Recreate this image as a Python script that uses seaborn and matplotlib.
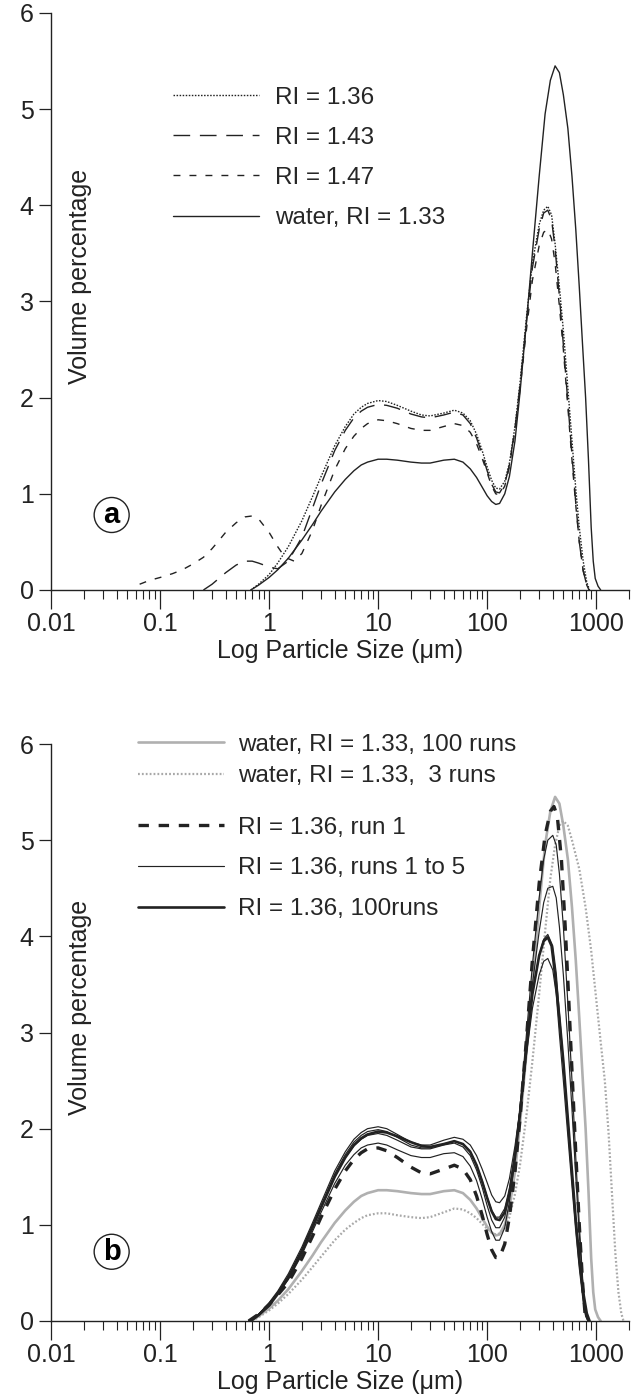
import matplotlib
matplotlib.use("Agg")
import matplotlib.pyplot as plt
import seaborn as sns
from matplotlib.ticker import FixedLocator, FixedFormatter, NullFormatter

# ---------------- data ----------------
# Panel a
a_water_size = [0.68, 0.8, 1.0, 1.2, 1.5, 2.0, 2.5, 3.0, 4.0, 5.0, 6.0, 7.0, 8.0, 10, 12, 15, 20, 25, 30, 40,
                50, 60, 70, 80, 90, 100, 110, 120, 130, 145, 160, 180, 200, 230, 260, 300, 340, 380, 420, 460,
                500, 550, 600, 650, 700, 750, 800, 850, 900, 940, 980, 1040, 1100]
a_water_vol = [0, 0.05, 0.13, 0.21, 0.33, 0.52, 0.68, 0.82, 1.02, 1.15, 1.24, 1.30, 1.33, 1.36, 1.36, 1.35, 1.33,
               1.32, 1.32, 1.35, 1.36, 1.33, 1.26, 1.17, 1.07, 0.98, 0.92, 0.89, 0.90, 1.00, 1.18, 1.55, 2.05,
               2.8, 3.5, 4.3, 4.95, 5.3, 5.45, 5.38, 5.15, 4.8, 4.3, 3.75, 3.15, 2.55, 2.0, 1.35, 0.65, 0.3,
               0.12, 0.04, 0]

a_ri136_size = [0.68, 0.8, 1.0, 1.2, 1.5, 2.0, 2.5, 3.0, 4.0, 5.0, 6.0, 7.0, 8.0, 10, 12, 15, 20, 25, 30, 40,
                50, 60, 70, 80, 90, 100, 110, 120, 130, 145, 160, 180, 200, 230, 260, 300, 330, 360, 390, 420,
                460, 500, 550, 600, 650, 700, 760, 820, 870]
a_ri136_vol = [0, 0.06, 0.16, 0.28, 0.45, 0.72, 0.97, 1.18, 1.5, 1.7, 1.83, 1.9, 1.94, 1.97, 1.96, 1.92, 1.86,
               1.82, 1.81, 1.84, 1.87, 1.84, 1.76, 1.62, 1.45, 1.28, 1.14, 1.06, 1.05, 1.13, 1.32, 1.7, 2.15,
               2.85, 3.4, 3.8, 3.95, 3.99, 3.9, 3.6, 3.15, 2.7, 2.1, 1.55, 1.05, 0.65, 0.3, 0.08, 0]

a_ri143_size = [0.25, 0.3, 0.4, 0.5, 0.6, 0.7, 0.8, 1.0, 1.2, 1.5, 2.0, 2.5, 3.0, 4.0, 5.0, 6.0, 7.0, 8.0, 10,
                12, 15, 20, 25, 30, 40, 50, 60, 70, 80, 90, 100, 110, 120, 130, 145, 160, 180, 200, 230, 260,
                300, 330, 360, 390, 420, 460, 500, 550, 600, 650, 700, 760, 820, 860]
a_ri143_vol = [0, 0.06, 0.18, 0.26, 0.3, 0.3, 0.28, 0.24, 0.22, 0.3, 0.55, 0.85, 1.1, 1.45, 1.66, 1.79, 1.86,
               1.9, 1.93, 1.92, 1.89, 1.83, 1.8, 1.79, 1.82, 1.85, 1.82, 1.73, 1.58, 1.41, 1.24, 1.1, 1.02,
               1.01, 1.1, 1.3, 1.68, 2.12, 2.8, 3.35, 3.75, 3.92, 3.95, 3.85, 3.55, 3.05, 2.55, 1.95, 1.4,
               0.9, 0.5, 0.2, 0.05, 0]

a_ri147_size = [0.065, 0.08, 0.1, 0.13, 0.16, 0.2, 0.25, 0.3, 0.35, 0.4, 0.5, 0.6, 0.7, 0.8, 1.0, 1.2, 1.4,
                1.7, 2.0, 2.5, 3.0, 4.0, 5.0, 6.0, 7.0, 8.0, 10, 12, 15, 20, 25, 30, 40, 50, 60, 70, 80, 90,
                100, 110, 120, 130, 145, 160, 180, 200, 230, 260, 300, 330, 360, 390, 420, 460, 500, 550,
                600, 650, 700, 760, 820, 860]
a_ri147_vol = [0.06, 0.1, 0.13, 0.17, 0.21, 0.27, 0.34, 0.43, 0.52, 0.6, 0.7, 0.76, 0.77, 0.74, 0.6, 0.45,
               0.34, 0.3, 0.38, 0.62, 0.88, 1.25, 1.47, 1.6, 1.68, 1.73, 1.77, 1.76, 1.73, 1.68, 1.66, 1.66,
               1.7, 1.73, 1.71, 1.64, 1.52, 1.37, 1.22, 1.08, 1.0, 0.99, 1.08, 1.28, 1.66, 2.08, 2.72, 3.22,
               3.58, 3.72, 3.75, 3.65, 3.4, 2.95, 2.5, 1.9, 1.35, 0.88, 0.5, 0.2, 0.05, 0]

# Panel b
b_water3_size = [0.7, 0.8, 1.0, 1.2, 1.5, 2.0, 2.5, 3.0, 4.0, 5.0, 6.0, 7.0, 8.0, 10, 12, 15, 20, 25, 30, 40,
                 50, 60, 70, 80, 90, 100, 110, 120, 130, 145, 160, 180, 200, 230, 260, 300, 340, 380, 420, 460,
                 500, 550, 600, 700, 800, 900, 1000, 1100, 1200, 1300, 1400, 1500, 1600, 1700, 1780]
b_water3_vol = [0, 0.04, 0.11, 0.18, 0.28, 0.43, 0.56, 0.67, 0.84, 0.95, 1.02, 1.07, 1.1, 1.12, 1.12, 1.1,
                1.08, 1.07, 1.08, 1.13, 1.17, 1.16, 1.12, 1.07, 1.01, 0.96, 0.92, 0.9, 0.91, 0.97, 1.08, 1.32,
                1.62, 2.15, 2.7, 3.4, 4.05, 4.6, 4.95, 5.15, 5.2, 5.15, 5.0, 4.7, 4.3, 3.85, 3.35, 2.9, 2.5,
                1.95, 1.3, 0.7, 0.3, 0.08, 0]

b_run1_size = [0.65, 0.8, 1.0, 1.2, 1.5, 2.0, 2.5, 3.0, 4.0, 5.0, 6.0, 7.0, 8.0, 10, 12, 15, 20, 25, 30, 40,
               50, 60, 70, 80, 90, 100, 110, 120, 130, 145, 160, 180, 200, 230, 260, 300, 340, 380, 410, 440,
               480, 520, 560, 600, 650, 700, 750, 790, 810]
b_run1_vol = [0, 0.07, 0.17, 0.27, 0.4, 0.65, 0.88, 1.08, 1.37, 1.56, 1.68, 1.75, 1.79, 1.8, 1.77, 1.7, 1.6,
              1.54, 1.53, 1.58, 1.62, 1.58, 1.47, 1.3, 1.1, 0.9, 0.74, 0.66, 0.66, 0.8, 1.08, 1.55, 2.1, 2.95,
              3.75, 4.55, 5.05, 5.3, 5.35, 5.25, 4.8, 4.1, 3.35, 2.6, 1.75, 1.0, 0.4, 0.08, 0]

b_runs_size = [0.65, 0.8, 1.0, 1.2, 1.5, 2.0, 2.5, 3.0, 4.0, 5.0, 6.0, 7.0, 8.0, 10, 12, 15, 20, 25, 30, 40,
               50, 60, 70, 80, 90, 100, 110, 120, 130, 145, 160, 180, 200, 230, 260, 300, 330, 360, 400, 430,
               460, 500, 550, 600, 650, 700, 760, 800, 840]
b_run_a_vol = [0, 0.07, 0.17, 0.28, 0.43, 0.69, 0.93, 1.13, 1.43, 1.62, 1.73, 1.8, 1.83, 1.85, 1.83, 1.78,
               1.72, 1.7, 1.7, 1.74, 1.75, 1.71, 1.61, 1.46, 1.27, 1.08, 0.93, 0.84, 0.84, 0.97, 1.24, 1.7,
               2.2, 3.0, 3.7, 4.4, 4.8, 5.0, 5.05, 4.95, 4.65, 4.1, 3.3, 2.5, 1.7, 1.0, 0.35, 0.1, 0]
b_run_b_vol = [0, 0.07, 0.18, 0.29, 0.46, 0.73, 0.98, 1.18, 1.5, 1.7, 1.82, 1.89, 1.93, 1.95, 1.93, 1.88,
               1.81, 1.79, 1.79, 1.83, 1.85, 1.81, 1.72, 1.57, 1.39, 1.2, 1.05, 0.97, 0.97, 1.08, 1.32, 1.74,
               2.2, 2.9, 3.5, 4.05, 4.35, 4.5, 4.52, 4.4, 4.1, 3.6, 2.9, 2.2, 1.5, 0.9, 0.32, 0.1, 0]
b_run_c_vol = [0, 0.07, 0.18, 0.3, 0.47, 0.75, 1.0, 1.2, 1.53, 1.73, 1.86, 1.93, 1.97, 1.99, 1.97, 1.91,
               1.83, 1.8, 1.8, 1.84, 1.87, 1.84, 1.76, 1.62, 1.46, 1.29, 1.15, 1.08, 1.08, 1.17, 1.38, 1.76,
               2.2, 2.85, 3.4, 3.8, 3.97, 4.02, 3.9, 3.62, 3.2, 2.7, 2.1, 1.55, 1.05, 0.62, 0.22, 0.06, 0]
b_run_d_vol = [0, 0.07, 0.19, 0.31, 0.49, 0.77, 1.02, 1.23, 1.56, 1.76, 1.89, 1.96, 2.0, 2.02, 2.0, 1.94,
               1.86, 1.83, 1.83, 1.88, 1.91, 1.89, 1.83, 1.72, 1.58, 1.44, 1.31, 1.24, 1.23, 1.3, 1.48, 1.82,
               2.2, 2.78, 3.25, 3.6, 3.74, 3.77, 3.65, 3.4, 2.98, 2.5, 1.92, 1.4, 0.93, 0.55, 0.2, 0.05, 0]

major_ticks = [0.01, 0.1, 1, 10, 100, 1000]
major_labels = ["0.01", "0.1", "1", "10", "100", "1000"]
y_ticks = [0, 1, 2, 3, 4, 5, 6]

labels_a = ["RI = 1.36", "RI = 1.43", "RI = 1.47", "water, RI = 1.33"]
labels_b1 = ["water, RI = 1.33, 100 runs", "water, RI = 1.33,  3 runs"]
labels_b2 = ["RI = 1.36, run 1", "RI = 1.36, runs 1 to 5", "RI = 1.36, 100runs"]

# ---------------- style ----------------
sns.set_theme(style="ticks")
plt.rcParams["font.family"] = ["Liberation Sans", "DejaVu Sans"]
plt.rcParams["lines.scale_dashes"] = False
INK = "#222222"
GREY = "#b0b0b0"

fig = plt.figure(figsize=(6.42, 13.97), dpi=100)
W, H = 642, 1397
ax_a = fig.add_axes([51 / W, 1 - 590 / H, 578 / W, 577 / H])
ax_b = fig.add_axes([51 / W, 1 - 1321 / H, 578 / W, 577 / H])


def draw(ax, x, y, **kw):
    sns.lineplot(x=x, y=y, ax=ax, estimator=None, sort=False, legend=False, **kw)
    return ax.lines[-1]


# Panel a lines
l_water = draw(ax_a, a_water_size, a_water_vol, color=INK, linewidth=1.0)
l_136 = draw(ax_a, a_ri136_size, a_ri136_vol, color=INK, linewidth=1.0, linestyle=(0, (1.1, 1.1)))
l_143 = draw(ax_a, a_ri143_size, a_ri143_vol, color=INK, linewidth=1.0, linestyle=(0, (12, 7)))
l_147 = draw(ax_a, a_ri147_size, a_ri147_vol, color=INK, linewidth=1.0, linestyle=(0, (5, 6.5)))

# Panel b lines
g_100 = draw(ax_b, a_water_size, a_water_vol, color=GREY, linewidth=1.9)
g_3 = draw(ax_b, b_water3_size, b_water3_vol, color="#a8a8a8", linewidth=1.6, linestyle=(0, (1.3, 1.5)))
thin = None
for vol in [b_run_a_vol, b_run_b_vol, b_run_c_vol, b_run_d_vol]:
    thin = draw(ax_b, b_runs_size, vol, color=INK, linewidth=0.85)
k_100 = draw(ax_b, a_ri136_size, a_ri136_vol, color=INK, linewidth=1.9)
k_run1 = draw(ax_b, b_run1_size, b_run1_vol, color=INK, linewidth=2.4, linestyle=(0, (7.5, 7)))

for ax, lab, ly in [(ax_a, "a", 0.78), (ax_b, "b", 0.72)]:
    ax.set_xscale("log")
    ax.set_xlim(0.01, 2000)
    ax.set_ylim(0, 6)
    ax.xaxis.set_major_locator(FixedLocator(major_ticks))
    ax.xaxis.set_major_formatter(FixedFormatter(major_labels))
    minors = [m * 10.0 ** e for e in range(-2, 3) for m in range(2, 10)] + [2000]
    ax.xaxis.set_minor_locator(FixedLocator(minors))
    ax.xaxis.set_minor_formatter(NullFormatter())
    ax.yaxis.set_major_locator(FixedLocator(y_ticks))
    ax.tick_params(axis="x", which="major", length=13.5, width=0.9, pad=2.5, labelsize=18,
                   color=INK, labelcolor=INK)
    ax.tick_params(axis="x", which="minor", length=6.5, width=0.8, color=INK)
    ax.tick_params(axis="y", which="major", length=8.5, width=0.9, pad=4, labelsize=18,
                   color=INK, labelcolor=INK)
    for s in ["top", "right"]:
        ax.spines[s].set_visible(False)
    for s in ["left", "bottom"]:
        ax.spines[s].set_color(INK)
        ax.spines[s].set_linewidth(1.0)
    ax.set_facecolor("white")
    ax.set_xlabel("Log Particle Size (μm)", fontsize=18, color=INK)
    ax.xaxis.set_label_coords(0.5, -0.085)
    ax.set_ylabel("Volume percentage", fontsize=18, color=INK)
    ax.yaxis.label.set_va("center")
    ax.yaxis.set_label_coords(0.05, 0.544)
    ax.text(0.036, ly, lab, fontsize=21, fontweight="bold", ha="center", va="center", color="black",
            bbox=dict(boxstyle="circle,pad=0.12", fc="white", ec=INK, lw=1.0))

leg_kw = dict(frameon=False, fontsize=17.5, borderpad=0, borderaxespad=0, loc="upper left",
              bbox_transform=fig.transFigure)
ax_a.legend([l_136, l_143, l_147, l_water], labels_a, bbox_to_anchor=(173 / W, 1 - 86.5 / H),
            handlelength=3.54, handletextpad=0.66, labelspacing=0.75, **leg_kw)

leg1 = ax_b.legend([g_100, g_3], labels_b1, bbox_to_anchor=(138 / W, 1 - 733.5 / H),
                   handlelength=3.54, handletextpad=0.58, labelspacing=0.41, **leg_kw)
ax_b.add_artist(leg1)
ax_b.legend([k_run1, thin, k_100], labels_b2, bbox_to_anchor=(138 / W, 1 - 816.5 / H),
            handlelength=3.54, handletextpad=0.58, labelspacing=0.78, **leg_kw)

fig.savefig("out.png", dpi=100, facecolor="white")
